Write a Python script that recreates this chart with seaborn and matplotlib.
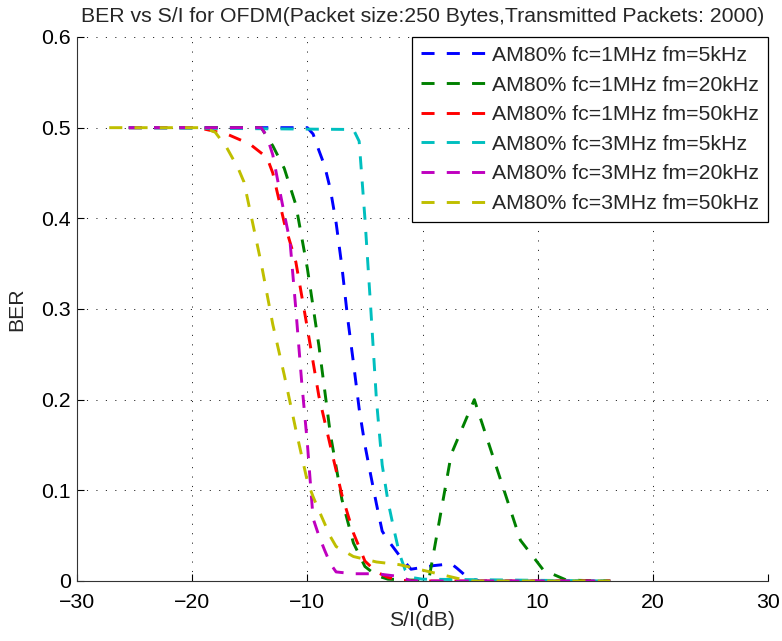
import matplotlib
matplotlib.use("Agg")
import matplotlib.pyplot as plt
import seaborn as sns
import pandas as pd

# BER vs S/I curves for six AM interference settings
labels = [
    "AM80% fc=1MHz fm=5kHz",
    "AM80% fc=1MHz fm=20kHz",
    "AM80% fc=1MHz fm=50kHz",
    "AM80% fc=3MHz fm=5kHz",
    "AM80% fc=3MHz fm=20kHz",
    "AM80% fc=3MHz fm=50kHz",
]
colors = ["#0000ff", "#008000", "#ff0000", "#00bfbf", "#bf00bf", "#bfbf00"]

si_1m_5k = [-25.5, -10, -9.5, -9, -8.5, -8, -7.5, -7, -6.5, -6, -5.5, -5, -4.5,
            -4, -3.5, -3, -2, -1, 0, 1, 2.5, 3, 4, 5, 16.3]
ber_1m_5k = [0.5, 0.5, 0.493, 0.475, 0.458, 0.432, 0.395, 0.347, 0.29, 0.241,
             0.19, 0.15, 0.117, 0.085, 0.055, 0.045, 0.028, 0.013, 0.015, 0.017,
             0.019, 0.014, 0.003, 0.0, 0.0]

si_1m_20k = [-25.5, -14, -13, -12, -11, -10, -9, -8, -7, -6, -5, -4, -3, -1, 0,
             0.6, 2.5, 4.5, 8.5, 10.5, 12.5, 16.3]
ber_1m_20k = [0.5, 0.5, 0.48, 0.455, 0.415, 0.345, 0.26, 0.162, 0.09, 0.042,
              0.016, 0.006, 0.002, 0.001, 0.001, 0.005, 0.14, 0.2, 0.045, 0.012,
              0.001, 0.0]

si_1m_50k = [-25.5, -19.5, -17, -15, -13.5, -13, -12, -11, -10, -9, -8, -7, -6,
             -5, -4, -3, -2, -1, 16.3]
ber_1m_50k = [0.5, 0.5, 0.493, 0.482, 0.467, 0.45, 0.395, 0.352, 0.279, 0.204,
              0.149, 0.095, 0.053, 0.022, 0.01, 0.004, 0.001, 0.0, 0.0]

si_3m_5k = [-25.5, -6, -5.5, -5, -4.5, -4, -3.5, -3, -2.5, -2, -1.5, -1, 0, 16.3]
ber_3m_5k = [0.5, 0.498, 0.485, 0.40, 0.302, 0.2, 0.128, 0.088, 0.058, 0.03,
             0.012, 0.004, 0.002, 0.0]

si_3m_20k = [-25.5, -14, -13.5, -13, -12.5, -12, -11.5, -11, -10.5, -10, -9.5,
             -9, -8.5, -8, -7.5, -6, -4, -2, -1, 16.3]
ber_3m_20k = [0.5, 0.5, 0.49, 0.47, 0.437, 0.405, 0.374, 0.30, 0.221, 0.152,
              0.069, 0.05, 0.034, 0.019, 0.01, 0.008, 0.008, 0.005, 0.0, 0.0]

si_3m_50k = [-27.2, -19, -18, -17, -16, -15.5, -15, -14, -13, -12, -11, -10,
             -9.5, -9, -8, -7.5, -6, -4, -2, 0, 2, 3, 4, 16.3]
ber_3m_50k = [0.5, 0.5, 0.495, 0.478, 0.455, 0.44, 0.41, 0.35, 0.283, 0.227,
              0.167, 0.11, 0.093, 0.078, 0.049, 0.038, 0.027, 0.021, 0.018,
              0.012, 0.006, 0.003, 0.0, 0.0]

series_si = [si_1m_5k, si_1m_20k, si_1m_50k, si_3m_5k, si_3m_20k, si_3m_50k]
series_ber = [ber_1m_5k, ber_1m_20k, ber_1m_50k, ber_3m_5k, ber_3m_20k, ber_3m_50k]

x_ticks = [-30, -20, -10, 0, 10, 20, 30]
y_ticks = [0, 0.1, 0.2, 0.3, 0.4, 0.5, 0.6]

sns.set_style("ticks")
plt.rcParams["font.family"] = ["Liberation Sans", "DejaVu Sans"]
plt.rcParams["lines.scale_dashes"] = False
plt.rcParams["axes.unicode_minus"] = True

fs = 15.3
fig = plt.figure(figsize=(7.82, 6.41), dpi=100)
ax = fig.add_axes([77 / 782, 1 - 581 / 641, (768 - 77) / 782, (581 - 37) / 641])

for si, ber, lab, col in zip(series_si, series_ber, labels, colors):
    df = pd.DataFrame({"S/I": si, "BER": ber})
    sns.lineplot(data=df, x="S/I", y="BER", color=col, lw=2.1,
                 linestyle=(0, (9.4, 8.8)), label=lab, ax=ax, sort=False,
                 estimator=None)

ax.set_xlim(-30, 30)
ax.set_ylim(0, 0.6)
ax.set_xticks(x_ticks)
ax.set_yticks(y_ticks)
ax.set_yticklabels([f"{v:g}" for v in y_ticks])
ax.set_xticklabels([f"{v:g}".replace("-", "\u2212") for v in x_ticks])
ax.tick_params(direction="in", length=5, width=0.8, labelsize=fs, colors="k")
ax.tick_params(axis="x", pad=9)
ax.tick_params(axis="y", pad=4.5)
ax.grid(True, color="k", lw=0.6, linestyle=(0, (0.8, 6.0)))
for side in ("top", "right"):
    ax.spines[side].set_visible(False)
for side in ("left", "bottom"):
    ax.spines[side].set_color("#333333")
    ax.spines[side].set_linewidth(0.8)

ax.set_xlabel("S/I(dB)", fontsize=fs, labelpad=-1)
ax.set_ylabel("BER", fontsize=fs, labelpad=11)
ax.set_title("BER vs S/I for OFDM(Packet size:250 Bytes,Transmitted Packets: 2000)",
             fontsize=fs, pad=11)

leg = ax.legend(loc="upper right", bbox_to_anchor=(1.0, 1.0), borderaxespad=0,
                fontsize=fs, handlelength=3.0, handletextpad=0.33,
                labelspacing=0.5, borderpad=0.42, fancybox=False,
                framealpha=1, edgecolor="k")
leg.get_frame().set_linewidth(0.9)

fig.savefig("out.png", dpi=100)
